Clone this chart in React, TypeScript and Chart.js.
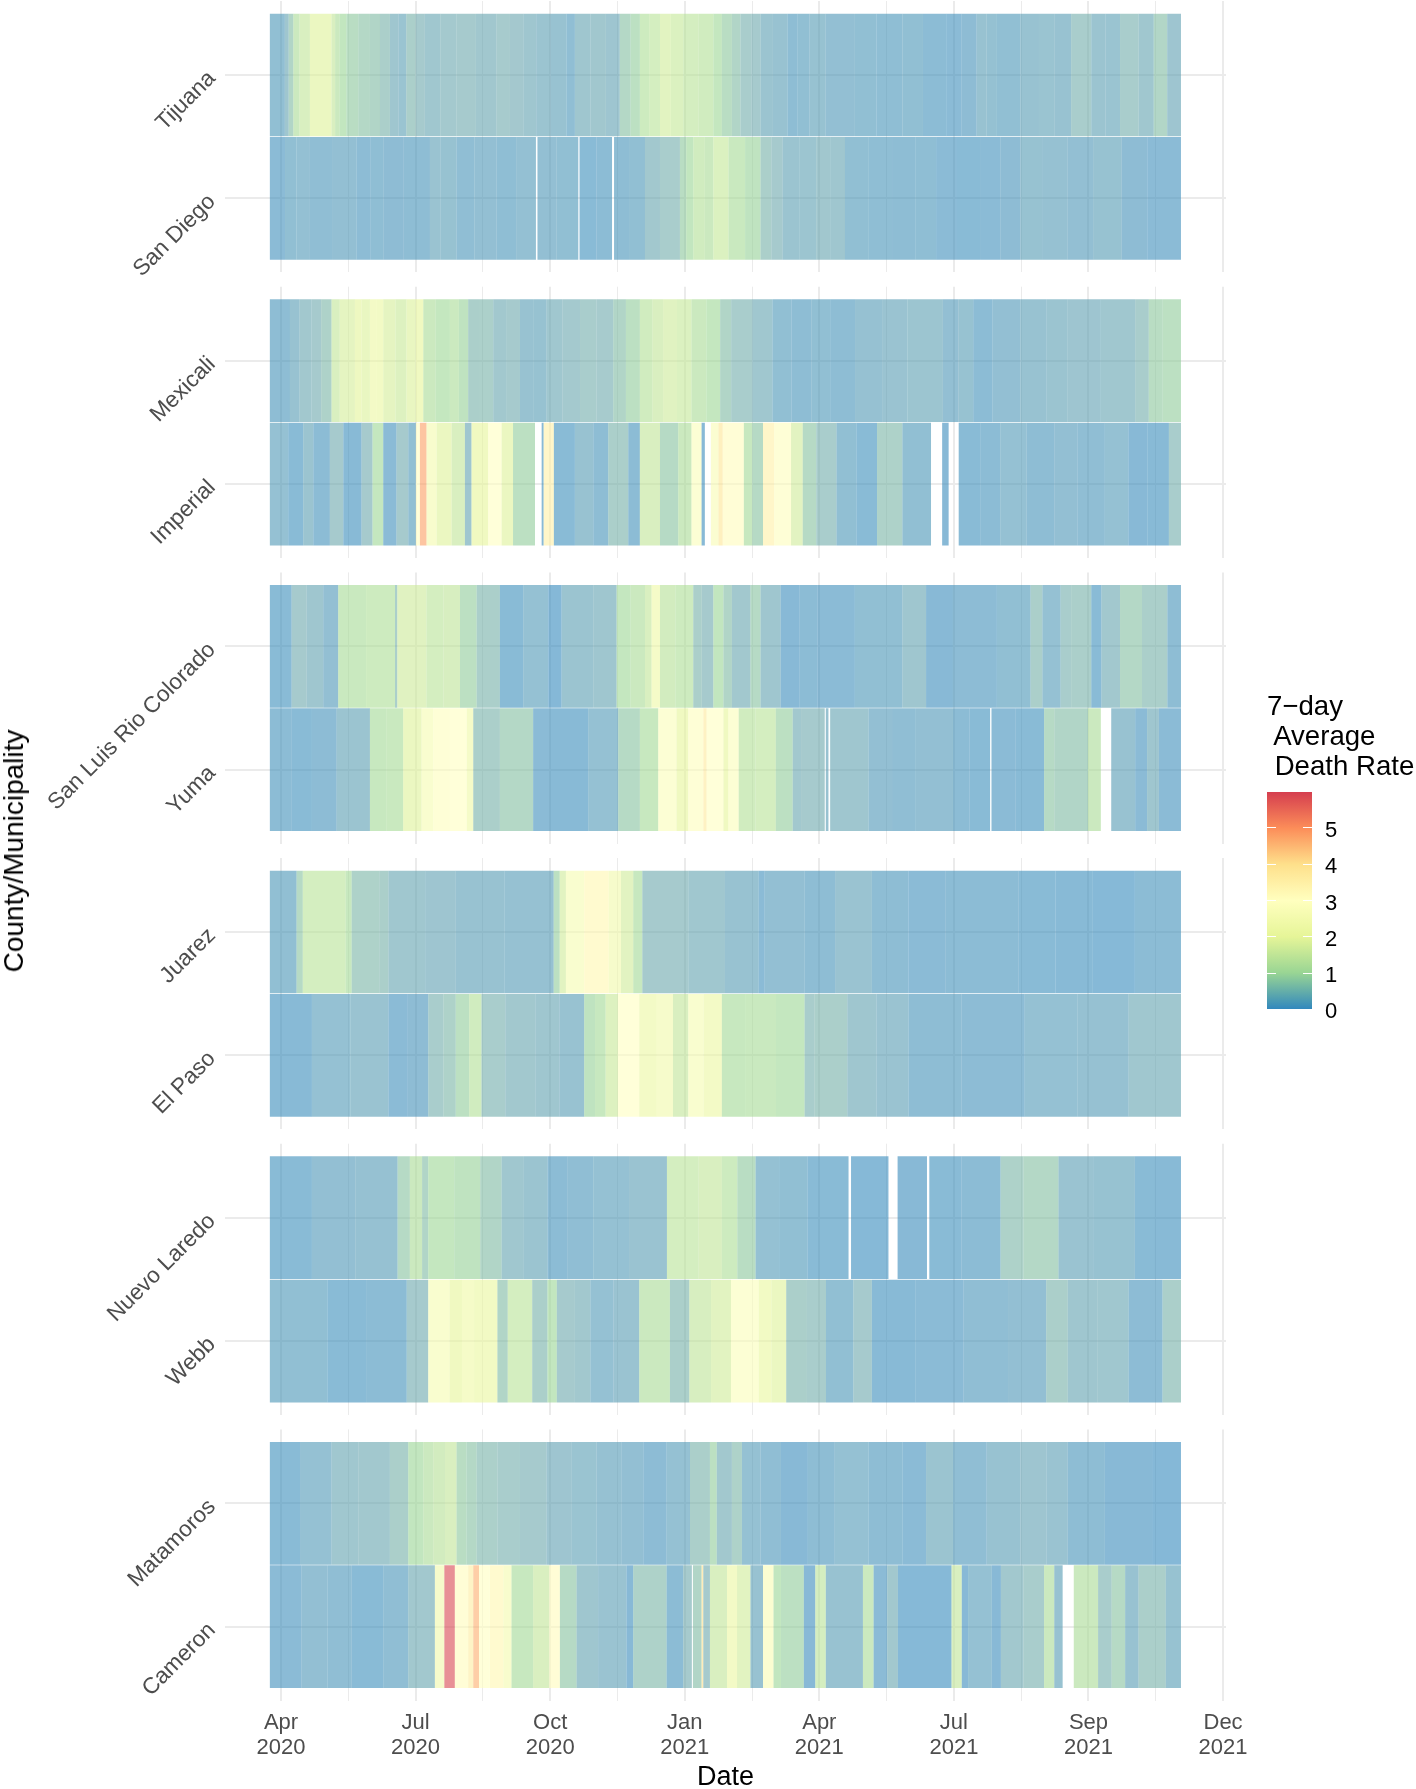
import React, { useEffect, useRef } from "react";
import { Chart, registerables } from "chart.js";

Chart.register(...registerables);

type Run = [number, number | null];

const firstDay = -7.2;
const xTickLabels = ["Apr 2020", "Jul 2020", "Oct 2020", "Jan 2021", "Apr 2021", "Jul 2021", "Sep 2021", "Dec 2021"];
const xTickDays = [0, 43.5, 87, 130.5, 174, 217.5, 261, 304.5, 348, 391.5, 435, 478.5, 522, 565.5, 609];
const legendTicks = [0, 1, 2, 3, 4, 5];

const tijuana: Run[] = [[2.5,.2],[5,.4],[8,.7],[12,1.2],[18.7,1.5],[32.7,1.9],[35,1.5],[38,1.2],[42.4,1],[50,.85],[57.5,.75],[64,.7],[70.4,.6],[76,.4],[81,.33],[87,.6],[93,.5],[103,.42],[113.5,.48],[126,.5],[139.4,.43],[148,.52],[156.6,.47],[165,.4],[174,.35],[184.6,.3],[190,.18],[200,.4],[210,.44],[219,.38],[226,.75],[232,.9],[238,1.25],[245,1.4],[252,1.7],[260,1.55],[270,1.4],[279.5,1.3],[285,1.05],[291.5,.85],[297,.7],[304,.55],[310,.5],[318,.35],[327.5,.3],[334,.15],[341.7,.2],[352,.28],[371,.22],[385,.2],[401.7,.17],[415,.2],[430,.12],[440,.1],[449.7,.14],[456,.3],[462.8,.26],[478,.2],[490,.3],[499.9,.33],[510.8,.3],[523.8,.55],[533,.35],[542.4,.33],[554.4,.55],[564.2,.42],[572.9,.72],[581.8,.38]];
const sanDiego: Run[] = [[2.6,.1],[10,.2],[18.7,.24],[33,.18],[48.9,.22],[58,.13],[66.1,.17],[79,.14],[96.3,.15],[103,.32],[113.5,.28],[125,.18],[139.4,.22],[152,.16],[164.8,.24],[165.8,null],[178,.22],[192.2,.2],[193,null],[204,.08],[214,.12],[215.3,null],[225,.15],[235.3,.2],[245,.45],[257.9,.55],[262,.85],[266.5,1],[274,1.3],[279.5,1.2],[289.3,1.55],[300,1.15],[310,.95],[317,.6],[324.2,.5],[335,.35],[346,.36],[355,.44],[364.6,.4],[380,.2],[395,.17],[410,.15],[423.5,.17],[437,.1],[451.9,.08],[465,.1],[478,.14],[492,.28],[508.6,.27],[525,.22],[543.5,.28],[560,.14],[581.8,.1]];
const mexicali: Run[] = [[5.8,.15],[12,.3],[19.8,.45],[26,.5],[32.7,.65],[38,1.5],[47.8,1.75],[52,1.95],[57.5,1.85],[62,2.2],[66.1,2.15],[74,1.75],[81.2,1.6],[87,1.85],[92,2],[100,1.2],[109.2,1.05],[115,1.2],[121,.95],[128,.6],[137.2,.62],[146,.45],[154.5,.5],[163,.3],[171.7,.28],[182,.42],[193.3,.48],[204,.55],[214.8,.52],[223,.7],[232,.9],[240,1.3],[247,1.5],[256,1.65],[265.4,1.55],[275,1.2],[283.9,1.05],[291,.7],[304.6,.55],[317.7,.42],[330,.2],[342.8,.15],[355,.2],[371.1,.15],[388.6,.27],[405,.32],[427.9,.36],[438,.22],[447.5,.28],[460,.12],[478,.22],[495,.3],[508.6,.34],[530,.38],[552.2,.42],[561,.55],[570,.85],[581.8,.9]];
const imperial: Run[] = [[4.7,.25],[14.4,.08],[20.9,.35],[31.6,.12],[40.3,.5],[52.1,.06],[59.2,.5],[66.1,1.05],[74.7,.1],[82.3,.5],[87.2,.2],[89.8,3],[94.1,4.8],[100.6,2.5],[110.3,1.9],[118.9,1.5],[123.2,.4],[134,2],[142.6,3],[150,1.9],[164.2,.9],[168.5,null],[169.8,.05],[176.4,3.5],[190,.08],[201.9,.3],[211.6,.15],[224.5,.6],[232,.12],[245,1.5],[256.8,.8],[265.4,1.2],[271.9,2.8],[274,.05],[277.9,null],[282.8,2.7],[285.6,3.8],[299.2,3.1],[304.6,1.1],[311.6,.8],[318.8,3.5],[329.7,2.9],[337.3,1.7],[346,.8],[359.1,.55],[372,.2],[385.3,.08],[401.7,.65],[420.2,.2],[427.4,null],[431.6,.05],[438.1,null],[452,.08],[465,.12],[482,.25],[499.9,.15],[515,.22],[532.6,.18],[547.8,.25],[560,.05],[574,.06],[581.8,.55]];
const sanLuis: Run[] = [[6.9,.08],[16.6,.5],[27.3,.4],[37,.22],[55,1.15],[73.7,1.25],[75.2,.6],[94.1,1.65],[105,1.4],[115.7,1.45],[126.5,.9],[141.5,.6],[156.6,.08],[172.8,.25],[181.4,.02],[201.9,.35],[217,.4],[226,1.05],[235.3,1.2],[239.6,1.5],[245,2.3],[255,1.35],[266.5,1.25],[272,.6],[279.5,.5],[286,1],[291.5,.7],[303.5,.45],[310,.8],[323,.4],[335,.05],[347,.12],[371,.1],[401.7,.2],[417,.4],[434.4,.05],[462.8,.13],[484.6,.2],[492.2,.6],[504,.25],[510.8,.55],[523.8,.6],[530.4,.08],[542.4,.45],[556.6,.75],[573,.6],[581.8,.15]];
const yuma: Run[] = [[7,.12],[20,.08],[36,.13],[57.5,.35],[68,1.1],[79,1.15],[90.9,1.9],[98.4,2.6],[109.2,2.9],[120,3],[124.3,2.3],[141.5,.6],[163,.75],[173.9,.1],[198.6,.06],[218,.25],[232,.8],[243.9,1.1],[255.7,2.8],[263.3,2],[273,2.9],[275.2,3.7],[286,3],[289.3,2],[295.9,2.8],[306.8,1.3],[319.9,1.4],[330.8,.9],[336.2,.45],[351.5,.5],[352.2,null],[353.9,.3],[355,null],[379.9,.4],[395,.22],[410.4,.18],[434.4,.22],[445,.12],[458.4,.08],[459.3,null],[475,.1],[493.3,.08],[499.9,.8],[521.7,.7],[530,1.2],[536.7,null],[552.2,.3],[559.9,.1],[567.5,.4],[581.8,.1]];
const juarez: Run[] = [[10.1,.2],[14.1,.8],[41.8,1.4],[45.7,1.1],[63.5,.65],[69.5,.6],[93.2,.42],[113,.38],[144.6,.3],[176.3,.27],[180.2,.9],[184.2,1.7],[196,2.6],[211.9,3.3],[219.8,2.4],[227.7,1.7],[233.6,1.1],[263.3,.5],[287,.42],[308.8,.3],[312.7,.1],[338.5,.22],[358.2,.15],[382,.32],[405.7,.15],[429.4,.1],[476.9,.12],[500.6,.08],[524.4,.06],[552,.03],[581.8,.12]];
const elPaso: Run[] = [[20,.06],[45,.25],[69.5,.32],[82,.1],[95.2,.14],[105,.55],[113,.65],[121.7,.9],[129.6,1.3],[145,.55],[164.4,.45],[180,.4],[196,.3],[203,.95],[209.9,1.1],[217.8,1.6],[231.6,3],[243,2.2],[253.4,2.4],[263.3,1.5],[273.2,2.6],[285,2.2],[300,1.1],[320,1.15],[338.5,1.05],[345,.55],[366.1,.6],[385,.4],[405.7,.32],[440,.15],[480.8,.13],[515,.25],[548,.27],[581.8,.42]];
const nuevoLaredo: Run[] = [[20,.08],[48,.22],[75.4,.27],[83.3,.8],[91.2,1.2],[95.2,.7],[112,1.05],[128.8,.95],[142.6,.7],[157,.42],[172.3,.35],[185,.12],[202,.18],[225,.25],[249.5,.32],[270,1.4],[285,1.5],[295,1.25],[306.8,.85],[322,.25],[340.4,.2],[366.9,.08],[368.5,null],[392.7,.04],[398.6,null],[417.6,.05],[419.1,null],[440,.08],[465.2,.12],[480,.65],[502.6,.75],[525,.32],[552,.28],[565,.08],[581.8,.06]];
const webb: Run[] = [[30,.2],[55,.08],[81.3,.12],[95.2,.5],[109,2.6],[117,2],[124.8,2.3],[139.9,2.1],[146.6,.7],[162.4,1.4],[172.3,.6],[178.3,1],[190,.5],[200,.45],[215,.25],[231.6,.32],[251.4,1.2],[264,.6],[278,1.45],[290.9,1.7],[308.8,2.8],[317,2.1],[326.6,1.9],[340,.6],[352.3,.55],[370,.2],[382,.5],[410,.06],[441.3,.1],[470,.18],[494.7,.22],[508.6,.6],[528,.4],[548,.42],[569.9,.13],[581.8,.6]];
const matamoros: Run[] = [[12.3,.08],[32.7,.25],[50,.42],[70.4,.45],[82.3,.6],[92,1],[98.4,1.2],[106,1.35],[113.5,1.5],[120,.85],[126.5,.75],[140,.62],[154.5,.55],[171.7,.5],[188,.38],[204,.33],[220,.27],[234.2,.22],[249.3,.13],[264.4,.25],[277.3,.6],[281.7,.9],[291.5,.45],[298,.65],[310,.25],[323.2,.18],[340.6,.05],[358,.15],[379.9,.25],[401.7,.15],[417,.1],[434.4,.35],[456.2,.18],[478,.3],[495,.38],[508.6,.32],[532.6,.15],[563.1,.05],[581.8,.02]];
const cameron: Run[] = [[13.3,.1],[30,.22],[45.7,.18],[66.1,.08],[82.3,.18],[99.5,.45],[105.6,2.4],[112.4,5.9],[121,3.1],[124.3,3.6],[128,4.6],[135,3],[143.7,3.3],[149,2.5],[163,1.1],[173.4,1.5],[180.3,3.1],[191.1,.8],[205,.4],[223.4,.32],[227.7,.05],[249.3,.65],[260,.12],[265.6,.5],[266.3,null],[271.9,.7],[273,4],[277.3,.5],[288.3,1.5],[294.8,2.2],[303.5,1.7],[311.6,.3],[318.4,2.7],[323.2,1],[338,.9],[345.4,.05],[352.2,1.4],[376.2,.3],[383.1,1.2],[391.9,.1],[398.8,.45],[433.5,.04],[440.1,1.5],[444.2,.05],[459.5,.25],[465.4,.05],[480,.45],[493.3,.55],[499.9,1.2],[505.3,.3],[512.5,null],[528.2,1.2],[537,.55],[545.7,.8],[554.4,.3],[572,.6],[581.8,.28]];

const panels: { names: string[]; rows: Run[][] }[] = [
  { names: ["Tijuana", "San Diego"], rows: [tijuana, sanDiego] },
  { names: ["Mexicali", "Imperial"], rows: [mexicali, imperial] },
  { names: ["San Luis Rio Colorado", "Yuma"], rows: [sanLuis, yuma] },
  { names: ["Juarez", "El Paso"], rows: [juarez, elPaso] },
  { names: ["Nuevo Laredo", "Webb"], rows: [nuevoLaredo, webb] },
  { names: ["Matamoros", "Cameron"], rows: [matamoros, cameron] },
];

const spectral = ["#3288BD", "#99D594", "#E6F598", "#FFFFBF", "#FEE08B", "#FC8D59", "#D53E4F"];
const heatStops = [0, 0.5, 1, 2, 3, 4, 5, 6];
const heatColors = ["#3288BD", "#6AA6AC", "#99D594", "#E6F598", "#FFFFBF", "#FEE08B", "#FC8D59", "#D53E4F"];
const hexRgb = (h: string) => [1, 3, 5].map((i) => parseInt(h.slice(i, i + 2), 16));
function heat(v: number) {
  let i = 0;
  while (i < heatStops.length - 2 && v > heatStops[i + 1]) i++;
  const f = Math.min(1, (v - heatStops[i]) / (heatStops[i + 1] - heatStops[i]));
  const a = hexRgb(heatColors[i]);
  const b = hexRgb(heatColors[i + 1]);
  const c = a.map((x, k) => Math.round(x + (b[k] - x) * f));
  return `rgba(${c[0]},${c[1]},${c[2]},0.6)`;
}

const FONT = "'Liberation Sans', Arial, sans-serif";
const GRID = "#ebebeb";
const PANEL_TOPS = [1, 286.7, 572.4, 858, 1143.7, 1429.4];
const PANEL_H = 271.33;
const CANVAS_W = 1270;
const PLOT_LEFT = 225;
const PLOT_RIGHT = 1226;

function Panel({ index }: { index: number }) {
  const ref = useRef<HTMLCanvasElement | null>(null);
  const last = index === panels.length - 1;
  const top = Math.floor(PANEL_TOPS[index]);
  const pad = PANEL_TOPS[index] - top;
  const height = last ? 1789 - top : Math.ceil(PANEL_H + pad + 2);
  useEffect(() => {
    const panel = panels[index];
    const datasets = panel.rows.map((runs, r) => {
      let start = firstDay;
      const data: any[] = [];
      const colors: string[] = [];
      for (const [end, v] of runs) {
        if (v !== null) {
          data.push({ x: [start, end], y: r });
          colors.push(heat(v));
        }
        start = end;
      }
      return {
        data,
        backgroundColor: colors,
        borderWidth: 0,
        grouped: false,
        barPercentage: 0.995,
        categoryPercentage: 1,
      };
    });
    const chart = new Chart(ref.current as HTMLCanvasElement, {
      type: "bar",
      data: { datasets } as any,
      options: {
        indexAxis: "y",
        animation: false,
        responsive: false,
        devicePixelRatio: 1,
        layout: { padding: { top: pad, left: 0, right: CANVAS_W - PLOT_RIGHT, bottom: last ? 0 : height - pad - PANEL_H } },
        plugins: { legend: { display: false }, tooltip: { enabled: false } },
        scales: {
          x: {
            type: "linear",
            min: -36.2,
            max: 610.9,
            border: { display: false },
            grid: {
              color: GRID,
              drawTicks: false,
              lineWidth: (c: any) => (c.index % 2 === 0 ? 2 : 1),
            },
            title: last
              ? { display: true, text: "Date", color: "#000", font: { family: FONT, size: 27 }, padding: { top: 0, bottom: -4.6 } }
              : { display: false },
            ticks: {
              display: last,
              autoSkip: false,
              maxRotation: 0,
              minRotation: 0,
              padding: 10,
              color: "#4d4d4d",
              font: { family: FONT, size: 22, lineHeight: 1.14 },
              callback: (_v: any, i: number) => (i % 2 === 0 ? xTickLabels[i / 2].split(" ") : ""),
            },
            afterBuildTicks: (s: any) => {
              s.ticks = xTickDays.map((value) => ({ value }));
            },
            afterFit: (s: any) => {
              s.paddingLeft = 0;
              s.paddingRight = 0;
              s.height = last ? height - pad - PANEL_H : 0;
            },
          },
          y: {
            type: "linear",
            reverse: true,
            offset: false,
            min: -0.6,
            max: 1.6,
            border: { display: false },
            grid: { color: GRID, drawTicks: false, lineWidth: 2, offset: false },
            ticks: {
              autoSkip: false,
              minRotation: 45,
              maxRotation: 45,
              padding: 13,
              color: "#4d4d4d",
              font: { family: FONT, size: 22.6 },
              callback: (v: any) => panel.names[v],
            },
            afterBuildTicks: (s: any) => {
              s.ticks = panel.names.map((_n, value) => ({ value }));
            },
            afterFit: (s: any) => {
              s.width = PLOT_LEFT;
              s.paddingTop = 0;
              s.paddingBottom = 0;
            },
          },
        },
      } as any,
    });
    return () => chart.destroy();
  }, [index]);
  return (
    <canvas
      ref={ref}
      width={CANVAS_W}
      height={height}
      style={{ position: "absolute", left: 0, top, width: CANVAS_W, height, display: "block" }}
    />
  );
}

const BAR_LEFT = 1267.3;
const BAR_TOP = 791.7;
const BAR_W = 44.4;
const BAR_H = 217.6;
const UNIT = BAR_H / 6;

export default function App() {
  return (
    <div style={{ position: "absolute", left: 0, top: 0, width: 1416, height: 1789, overflow: "hidden", background: "#fff", fontFamily: FONT }}>
      {panels.map((_p, i) => (
        <Panel key={i} index={i} />
      ))}
      <div
        style={{
          position: "absolute",
          left: 13.5,
          top: 851,
          transform: "translate(-50%,-50%) rotate(-90deg)",
          fontSize: 28,
          color: "#000",
          whiteSpace: "nowrap",
        }}
      >
        County/Municipality
      </div>
      <div style={{ position: "absolute", left: 1267, top: 691, fontSize: 27.6, lineHeight: "30px", color: "#000", whiteSpace: "pre" }}>
        {"7\u2212day\n Average\n Death Rate"}
      </div>
      <div
        style={{
          position: "absolute",
          left: BAR_LEFT,
          top: BAR_TOP,
          width: BAR_W,
          height: BAR_H,
          background: `linear-gradient(to top, ${spectral.join(",")})`,
        }}
      />
      {legendTicks.map((t) => {
        const y = BAR_TOP + BAR_H - t * UNIT;
        return (
          <React.Fragment key={t}>
            <div style={{ position: "absolute", left: BAR_LEFT, top: y - 0.5, width: 9, height: 1, background: "#fff" }} />
            <div style={{ position: "absolute", left: BAR_LEFT + BAR_W - 9, top: y - 0.5, width: 9, height: 1, background: "#fff" }} />
            <div style={{ position: "absolute", left: 1325, top: y - 11, fontSize: 22, lineHeight: "25px", color: "#000" }}>{t}</div>
          </React.Fragment>
        );
      })}
    </div>
  );
}
